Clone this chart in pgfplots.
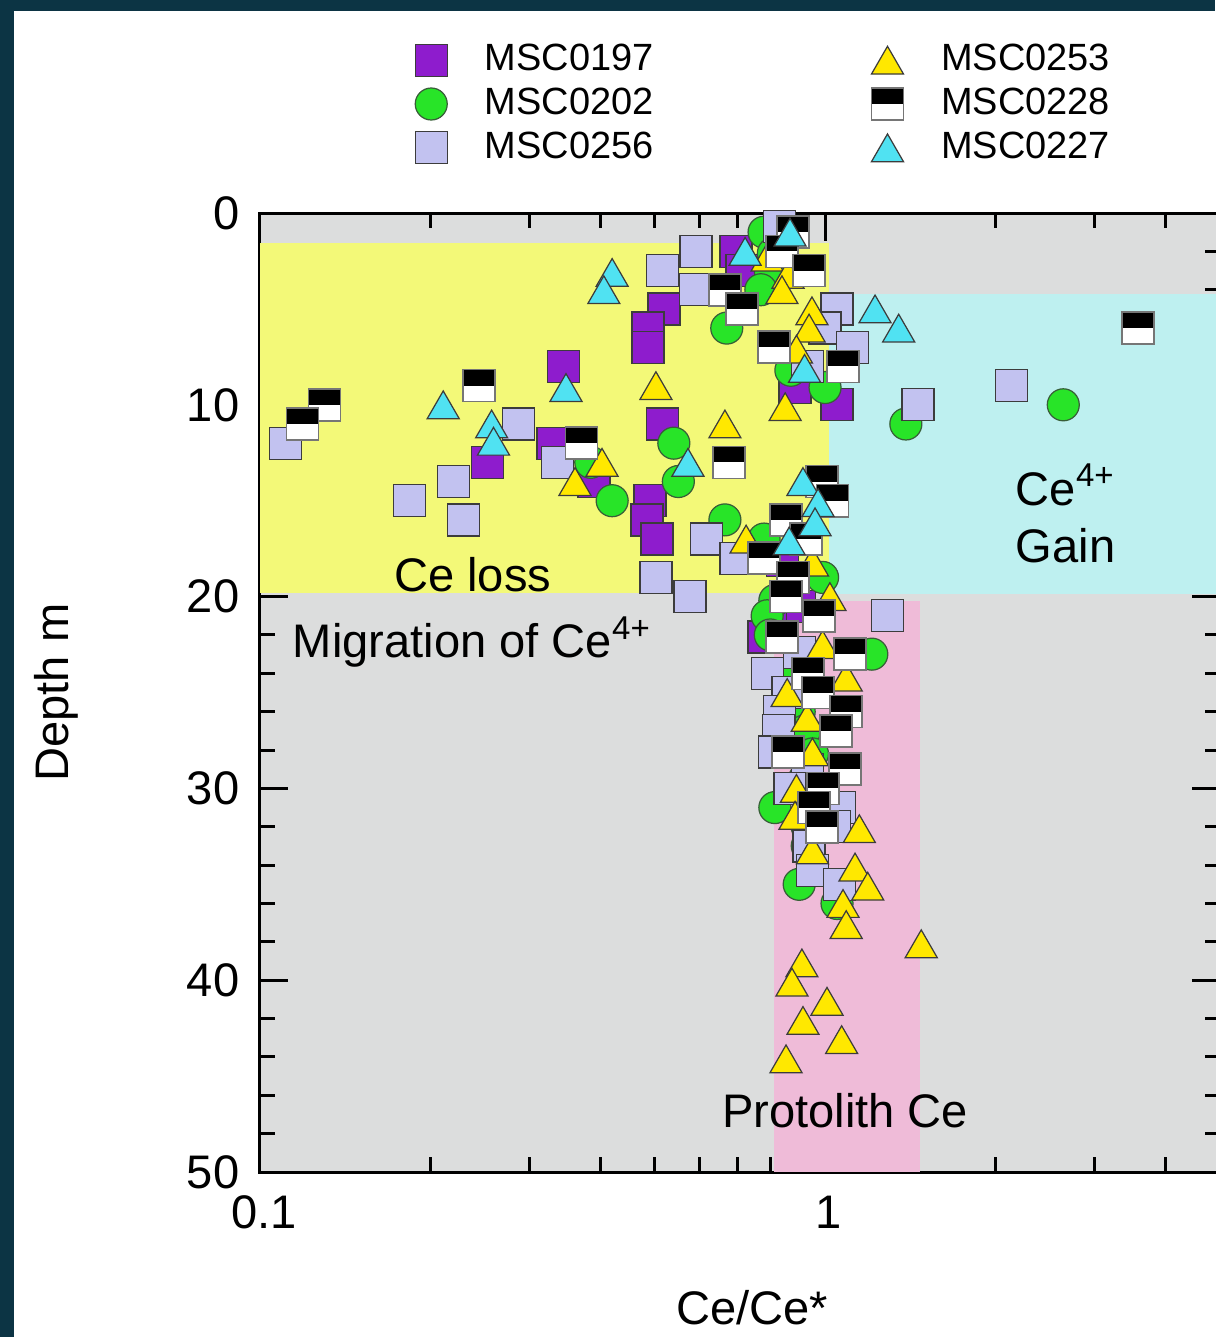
\documentclass[border=0pt]{standalone}
\usepackage{pgfplots}
\pgfplotsset{compat=1.18}
\usepackage{fontspec}
\setmainfont{Liberation Sans}
\definecolor{framec}{RGB}{12,52,68}
\definecolor{bggray}{RGB}{220,221,221}
\definecolor{ylwreg}{RGB}{243,249,120}
\definecolor{cyanreg}{RGB}{190,240,240}
\definecolor{pinkreg}{RGB}{239,187,216}
\definecolor{purp}{RGB}{142,28,205}
\definecolor{grn}{RGB}{40,228,40}
\definecolor{lav}{RGB}{194,194,240}
\definecolor{ylwm}{RGB}{255,232,0}
\definecolor{cyanm}{RGB}{80,226,242}
\definecolor{edgec}{RGB}{60,60,60}

\pgfdeclareplotmark{ctri}{%
  \pgfpathmoveto{\pgfqpoint{0pt}{0.75\pgfplotmarksize}}%
  \pgfpathlineto{\pgfqpoint{-0.866\pgfplotmarksize}{-0.75\pgfplotmarksize}}%
  \pgfpathlineto{\pgfqpoint{0.866\pgfplotmarksize}{-0.75\pgfplotmarksize}}%
  \pgfpathclose
  \pgfusepathqfillstroke}
\pgfdeclareplotmark{halfbw}{%
  \pgfpathrectangle{\pgfqpoint{-\pgfplotmarksize}{-\pgfplotmarksize}}{\pgfqpoint{2\pgfplotmarksize}{2\pgfplotmarksize}}%
  \pgfsetfillcolor{white}\pgfusepathqfill
  \pgfpathrectangle{\pgfqpoint{-\pgfplotmarksize}{0pt}}{\pgfqpoint{2\pgfplotmarksize}{\pgfplotmarksize}}%
  \pgfsetfillcolor{black}\pgfusepathqfill
  \pgfpathrectangle{\pgfqpoint{-\pgfplotmarksize}{-\pgfplotmarksize}}{\pgfqpoint{2\pgfplotmarksize}{2\pgfplotmarksize}}%
  \pgfusepathqstroke}

\pgfplotsset{
  sA/.style={only marks, mark=square*, mark size=1.6mm, mark options={fill=purp, draw=edgec, line width=0.35pt}},
  sB/.style={only marks, mark=*, mark size=1.6mm, mark options={fill=grn, draw=edgec!80!grn, line width=0.35pt}},
  sC/.style={only marks, mark=square*, mark size=1.6mm, mark options={fill=lav, draw=edgec, line width=0.35pt}},
  sD/.style={only marks, mark=ctri, mark size=1.85mm, mark options={fill=ylwm, draw=edgec, line width=0.35pt}},
  sE/.style={only marks, mark=halfbw, mark size=1.6mm, mark options={draw=edgec!70, line width=0.45pt}},
  sF/.style={only marks, mark=ctri, mark size=1.85mm, mark options={fill=cyanm, draw=edgec, line width=0.35pt}},
}

\newcommand{\bigf}{\fontsize{13.4}{16}\selectfont}

\begin{document}
\begin{tikzpicture}
\fill[white] (0,0) rectangle (121.5mm,133.7mm);
\begin{axis}[
  at={(26mm,16.5mm)}, anchor=south west,
  scale only axis, width=96mm, height=95.9mm,
  xmode=log, xmin=0.1, xmax=5, ymin=0, ymax=50, y dir=reverse,
  axis background/.style={fill=bggray},
  xtick={0.1,1}, xticklabels={0.1,1},
  minor xtick={0.2,0.3,0.4,0.5,0.6,0.7,0.8,0.9,2,3,4},
  ytick={0,10,20,30,40,50},
  minor ytick={2,4,6,8,12,14,16,18,22,24,26,28,32,34,36,38,42,44,46,48},
  major tick length=2.8mm, minor tick length=1.5mm,
  every tick/.style={line width=0.85pt, black},
  axis line style={line width=0.85pt},
  tick label style={font=\bigf},
  /pgf/number format/assume math mode=true,
  yticklabel style={inner sep=0pt, xshift=-2mm},
  xticklabel style={inner sep=0pt, yshift=-2.3mm, xshift=0.4mm},
  xlabel={Ce/Ce*}, ylabel={Depth m},
  label style={font=\bigf},
  xlabel style={at={(axis description cs:0.5125,-0.141)}, anchor=center},
  ylabel style={at={(axis description cs:-0.2125,0.5)}, anchor=center, rotate=0},
  clip=false,
  legend columns=2,
  legend image code/.code={\path (0mm,0mm) (9.2mm,0mm); \draw[mark repeat=2,mark phase=2] plot coordinates {(0mm,0mm)(4.6mm,0mm)(9.2mm,0mm)};},
  legend style={at={(axis description cs:0.129,1.184)}, anchor=north west, draw=none, fill=none,
    font=\fontsize{10.8}{12}\selectfont, inner sep=0pt, row sep=-0.2mm,
    /tikz/every even column/.append style={column sep=18mm}},
]
% regions
\addplot[fill=ylwreg, draw=none, forget plot] coordinates {(0.1,1.55) (1.015,1.55) (1.015,19.8) (0.1,19.8)} --cycle;
\addplot[fill=cyanreg, draw=none, forget plot] coordinates {(1.015,4.2) (5,4.2) (5,19.85) (1.015,19.85)} --cycle;
\addplot[fill=pinkreg, draw=none, forget plot] coordinates {(0.812,20.25) (1.475,20.25) (1.475,50) (0.812,50)} --cycle;

% MSC0197
\addplot[sA, forget plot] coordinates {
(0.696,2.0) (0.713,3.0) (0.519,5.0) (0.486,6.0) (0.486,7.0) (0.345,8.0)
(0.885,9.1) (1.05,10.0) (0.515,11.0) (0.330,12.0) (0.253,13.0) (0.39,14.0)
(0.49,15.0) (0.484,16.0) (0.504,17.0) (0.84,18.1) (0.90,20.5) (0.80,21.5) (0.78,22.1)
};
% MSC0202
\addplot[sB, forget plot] coordinates {
(0.78,1.0) (0.81,2.1) (0.80,3.0) (0.77,4.0) (0.67,6.0) (0.87,8.2) (1.0,9.1)
(2.64,10.0) (1.39,11.0) (0.54,12.0) (0.385,13.0) (0.55,14.0) (0.42,15.0)
(0.665,16.0) (0.78,17.0) (0.99,19.0) (0.815,20.2) (0.79,21.0) (0.80,22.0) (1.21,23.0)
(0.88,24.0) (0.92,25.0) (0.90,26.0) (0.92,27.0) (0.95,28.2) (0.92,29.5)
(0.815,31.0) (0.93,32.0) (0.93,33.0) (0.90,35.0) (1.05,36.0)
};
% MSC0256
\addplot[sC, forget plot] coordinates {
(0.83,0.7) (0.591,2.0) (0.515,3.0) (0.589,4.0) (1.05,5.0) (1.0,6.0) (1.12,7.0)
(0.93,8.0) (2.14,9.0) (1.46,10.0) (0.287,11.0) (0.111,12.0) (0.336,13.0)
(0.22,14.0) (0.184,15.0) (0.229,16.0) (0.616,17.0) (0.696,18.0) (0.502,19.0)
(0.577,20.0) (1.29,21.0) (0.90,22.9) (0.79,24.0) (0.86,25.0) (0.83,26.0)
(0.826,27.0) (0.815,28.1) (0.93,29.0) (0.867,30.0) (1.06,31.0) (1.04,32.0)
(0.937,33.0) (0.95,34.3) (1.06,35.0)
};
% MSC0253
\addplot[sD, forget plot] coordinates {
(0.79,2.3) (0.86,3.2) (0.839,4.0) (0.948,5.1) (0.937,6.0) (0.89,7.1) (0.502,9.0)
(0.85,10.1) (0.665,11.0) (0.403,13.0) (0.361,14.0) (0.725,17.0) (0.95,18.2)
(1.02,20.0) (0.99,22.5) (1.09,24.2) (0.857,25.0) (0.93,26.3) (0.95,28.1)
(0.89,30.0) (0.885,31.4) (1.15,32.1) (0.95,33.2) (1.13,34.1) (1.19,35.1)
(1.076,36.0) (1.09,37.1) (1.48,38.1) (0.91,39.1) (0.874,40.1) (1.008,41.1)
(0.914,42.1) (1.07,43.1) (0.853,44.1)
};
% MSC0228
\addplot[sE, forget plot] coordinates {
(0.878,1.0) (0.839,2.0) (0.937,3.0) (0.665,4.0) (0.713,5.0) (3.58,6.0)
(0.812,7.0) (1.076,8.0) (0.244,9.0) (0.13,10.0) (0.119,11.0) (0.371,12.0)
(0.676,13.0) (0.988,14.0) (1.03,15.0) (0.853,16.0) (0.925,17.0) (0.78,18.0)
(0.878,19.0) (0.853,20.0) (0.976,21.0) (0.839,22.1) (1.107,23.0) (0.933,24.0)
(0.972,25.0) (1.09,26.0) (1.046,27.0) (0.86,28.1) (1.085,29.0) (0.992,30.0)
(0.956,31.0) (0.988,32.0)
};
% MSC0227
\addplot[sF, forget plot] coordinates {
(0.867,1.0) (0.722,2.0) (0.42,3.1) (0.406,4.0) (1.226,5.0) (1.35,6.0)
(0.92,8.1) (0.348,9.1) (0.211,10.0) (0.257,11.0) (0.259,11.9) (0.572,13.0)
(0.914,14.0) (0.972,15.1) (0.96,16.1) (0.864,17.1)
};

\addlegendimage{sA}\addlegendentry{MSC0197}
\addlegendimage{sD}\addlegendentry{MSC0253}
\addlegendimage{sB}\addlegendentry{MSC0202}
\addlegendimage{sE}\addlegendentry{MSC0228}
\addlegendimage{sC}\addlegendentry{MSC0256}
\addlegendimage{sF}\addlegendentry{MSC0227}

\node[anchor=base, font=\bigf, inner sep=0pt] at (axis cs:0.238,19.75) {Ce loss};
\node[anchor=base west, font=\bigf, inner sep=0pt] at (axis cs:0.114,23.2) {Migration of Ce\textsuperscript{4+}};
\node[anchor=base west, font=\bigf, inner sep=0pt] at (axis cs:2.17,15.23) {Ce\textsuperscript{4+}};
\node[anchor=base west, font=\bigf, inner sep=0pt] at (axis cs:2.17,18.2) {Gain};
\node[anchor=base, font=\bigf, inner sep=0pt] at (axis cs:1.085,47.7) {Protolith Ce};
\end{axis}
\fill[framec] (0,132.6mm) rectangle (121.5mm,133.7mm);
\fill[framec] (0,0) rectangle (1.4mm,133.7mm);
\pgfresetboundingbox
\path[use as bounding box] (0,0) rectangle (121.5mm,133.7mm);
\end{tikzpicture}
\end{document}
